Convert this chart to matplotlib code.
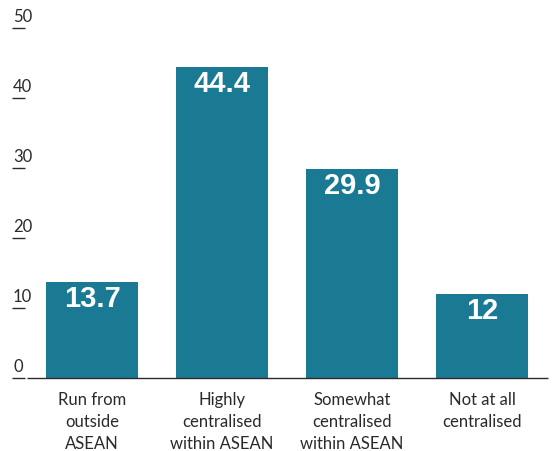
import matplotlib
matplotlib.use("Agg")
import matplotlib.pyplot as plt
from matplotlib.transforms import offset_copy, blended_transform_factory

categories = ["Run from\noutside\nASEAN", "Highly\ncentralised\nwithin ASEAN",
              "Somewhat\ncentralised\nwithin ASEAN", "Not at all\ncentralised"]
values = [13.7, 44.4, 29.9, 12]
value_labels = ["13.7", "44.4", "29.9", "12"]
yticks = [0, 10, 20, 30, 40, 50]

W, H = 553, 451
fig = plt.figure(figsize=(W / 100, H / 100), dpi=100)
ax = fig.add_axes([12 / W, (H - 378) / H, (548 - 12) / W, (378 - 28) / H])
ax.set_xlim(-80 / 130, 3 + 66 / 130)
ax.set_ylim(0, 50)
ax.axis("off")

bar_color = "#1a7a94"
text_color = "#2a2a2a"
xs = list(range(len(values)))
ax.bar(xs, values, width=92 / 130, color=bar_color, zorder=2)

txt_font = ["Lato", "DejaVu Sans"]
for i, (x, v, lab) in enumerate(zip(xs, values, value_labels)):
    tr = offset_copy(ax.transData, fig=fig, x=0, y=-3, units="dots")
    ax.text(x, v, lab, transform=tr, ha="center", va="top", color="white",
            fontsize=21, fontweight="bold", family="Liberation Sans", zorder=3)
    tr2 = offset_copy(ax.transData, fig=fig, x=0, y=-14, units="dots")
    ax.text(x, 0, categories[i], transform=tr2, ha="center", va="top",
            color=text_color, fontsize=12, family=txt_font, linespacing=1.45)

# y tick labels with short underline
trb = blended_transform_factory(fig.transFigure, ax.transData)
for t in yticks:
    ax.plot([12 / W, 25 / W], [t, t], transform=trb, color=text_color, lw=1,
            clip_on=False, solid_capstyle="butt")
    tr3 = offset_copy(trb, fig=fig, x=0, y=3, units="dots")
    ax.text(13 / W, t, str(t), transform=tr3, ha="left", va="bottom",
            color=text_color, fontsize=12, family=txt_font)

# baseline
ax.plot([27 / W, 548 / W], [0, 0], transform=trb, color=text_color, lw=1, clip_on=False,
        solid_capstyle="butt", zorder=4)

fig.savefig("out.png", dpi=100)
